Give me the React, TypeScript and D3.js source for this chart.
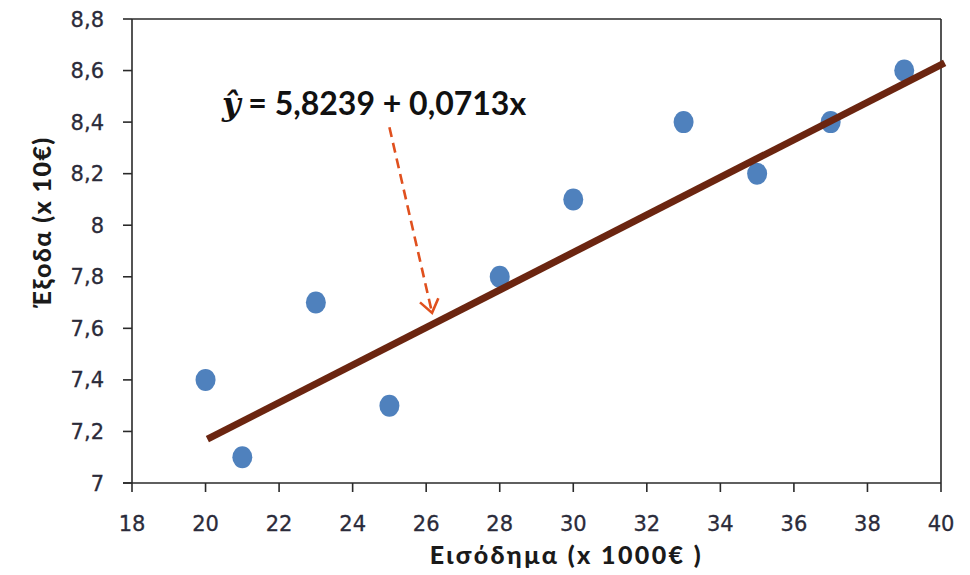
import React from "react";
import * as d3 from "d3";

const incomeX = [20, 21, 23, 25, 28, 30, 33, 35, 37, 39];
const expenseY = [7.4, 7.1, 7.7, 7.3, 7.8, 8.1, 8.4, 8.2, 8.4, 8.6];
const xTicks = [18, 20, 22, 24, 26, 28, 30, 32, 34, 36, 38, 40];
const yTicks = [7, 7.2, 7.4, 7.6, 7.8, 8, 8.2, 8.4, 8.6, 8.8];
const trendX = [20.05, 40.1];
const trendY = [7.17, 8.63];
const arrowX = [25.0, 26.16];
const arrowY = [8.38, 7.66];
const equationText = " = 5,8239 + 0,0713x";
const xTitle = "Εισόδημα (x 1000€ )";
const yTitle = "Έξοδα (x 10€)";

const W = 970;
const H = 575;
const M = { left: 132, right: 29, top: 19, bottom: 92 };

export default function App() {
  const x = d3.scaleLinear().domain([18, 40]).range([M.left, W - M.right]);
  const y = d3.scaleLinear().domain([7, 8.8]).range([H - M.bottom, M.top]);
  const fmt = (v: number) => String(+v.toFixed(1)).replace(".", ",");
  const line = d3
    .line<number>()
    .x((_, i) => x(trendX[i]))
    .y((d) => y(d));
  const ax0 = x(arrowX[0]);
  const ay0 = y(arrowY[0]);
  const ax1 = x(arrowX[1]);
  const ay1 = y(arrowY[1]);
  const ang = Math.atan2(ay1 - ay0, ax1 - ax0);
  const hl = 16;
  const spread = Math.PI / 5;
  const h1 = [ax1 - hl * Math.cos(ang - spread), ay1 - hl * Math.sin(ang - spread)];
  const h2 = [ax1 - hl * Math.cos(ang + spread), ay1 - hl * Math.sin(ang + spread)];
  const axisColor = "#2a2a2a";
  const tickFont = "'DejaVu Sans', Verdana, sans-serif";
  const titleFont = "Lato, 'Open Sans', sans-serif";
  const x0 = x(18), x1 = x(40), y0 = y(7), y1 = y(8.8);
  return (
    <svg width={W} height={H} style={{ position: "absolute", left: 0, top: 0, background: "#fff" }}>
      {/* plot frame */}
      <line x1={x0} x2={x1} y1={y1} y2={y1} stroke={axisColor} strokeWidth={1.6} />
      <line x1={x1} x2={x1} y1={y1} y2={y0} stroke={axisColor} strokeWidth={1.6} />
      <line x1={x0} x2={x0} y1={y1} y2={y0} stroke={axisColor} strokeWidth={1.6} />
      <line x1={x0 - 9} x2={x1} y1={y0} y2={y0} stroke={axisColor} strokeWidth={1.6} />
      {yTicks.map((t) => (
        <g key={"y" + t}>
          <line x1={x0 - 9} x2={x0} y1={y(t)} y2={y(t)} stroke={axisColor} strokeWidth={1.6} />
          <text x={x0 - 28} y={y(t)} dy="0.36em" textAnchor="end" fontFamily={tickFont} fontSize={21} fill="#2b2b3a" stroke="#2b2b3a" strokeWidth={0.3}>
            {fmt(t)}
          </text>
        </g>
      ))}
      {xTicks.map((t) => (
        <g key={"x" + t}>
          <line x1={x(t)} x2={x(t)} y1={y0} y2={y0 + 9} stroke={axisColor} strokeWidth={1.6} />
          <text x={x(t)} y={y0 + 48} textAnchor="middle" fontFamily={tickFont} fontSize={21} fill="#2b2b3a" stroke="#2b2b3a" strokeWidth={0.3}>
            {t}
          </text>
        </g>
      ))}
      {/* points */}
      {incomeX.map((v, i) => (
        <ellipse key={"p" + i} cx={x(v)} cy={y(expenseY[i])} rx={10} ry={11} fill="#4f81bd" />
      ))}
      {/* trend line */}
      <path d={line(trendY) || ""} stroke="#6b2510" strokeWidth={7} fill="none" />
      {/* arrow */}
      <line x1={ax0} y1={ay0} x2={ax1} y2={ay1} stroke="#e0501e" strokeWidth={2.6} strokeDasharray="10,6" />
      <path d={`M${h1[0]},${h1[1]}L${ax1},${ay1}L${h2[0]},${h2[1]}`} stroke="#e0501e" strokeWidth={2.6} fill="none" />
      {/* equation */}
      <text x={222} y={115} fontFamily={titleFont} fontWeight="bold" fontSize={32} fill="#111">
        <tspan fontFamily="'DejaVu Serif', 'Liberation Serif', serif" fontStyle="italic">ŷ</tspan>
        <tspan>{equationText}</tspan>
      </text>
      {/* axis titles */}
      <text x={(x0 + x1) / 2 + 30} y={564} textAnchor="middle" fontFamily={titleFont} fontWeight="900" fontSize={25} letterSpacing={2.4} fill="#1a1a1a">
        {xTitle}
      </text>
      <text
        transform={`translate(51,222) rotate(-90)`}
        textAnchor="middle"
        fontFamily={titleFont}
        fontWeight="900"
        fontSize={25}
        letterSpacing={1.4}
        fill="#1a1a1a"
      >
        {yTitle}
      </text>
    </svg>
  );
}
